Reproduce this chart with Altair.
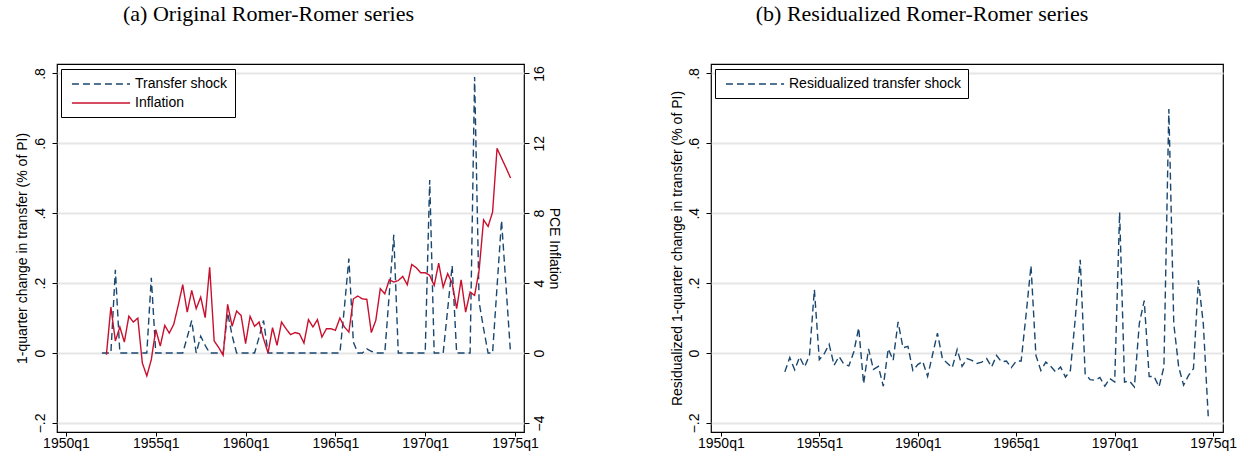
import altair as alt
import pandas as pd

NAVY = "#1a476f"
RED = "#c8102e"
GRID = "#e6e6e6"

# quarter index: 0 = 1950q1
tick_quarters = [0, 20, 40, 60, 80, 100]

shock_start = 8  # 1952q1
shock = [0, 0, 0, 0.238, 0, 0, 0, 0, 0, 0, 0, 0.215, 0, 0, 0, 0, 0, 0, 0,
         0.045, 0.093, 0, 0.048, 0.022, 0, 0, 0, 0, 0.115, 0.05, 0, 0, 0, 0,
         0, 0.045, 0.093, 0, 0, 0, 0, 0, 0, 0, 0, 0, 0, 0, 0, 0, 0, 0, 0, 0,
         0.13, 0.27, 0.031, 0, 0, 0.012, 0.005, 0, 0, 0, 0.17, 0.338, 0, 0,
         0, 0, 0, 0, 0, 0.495, 0, 0, 0, 0.125, 0.25, 0, 0, 0, 0, 0.79, 0.146,
         0.07, 0, 0, 0.19, 0.379, 0.19, 0]

infl_start = 9  # 1952q2
inflation = [-0.1, 2.63, 0.69, 1.49, 0.63, 2.11, 1.77, 2.0, -0.57, -1.31,
             -0.38, 1.34, 0.4, 1.58, 1.14, 1.64, 2.73, 3.91, 2.34, 3.58,
             2.54, 3.2, 2.02, 4.91, 0.69, 0.32, -0.13, 2.78, 1.53, 2.4, 2.15,
             0.54, 2.1, 1.53, 1.77, 0.82, 0.0, 1.45, 0.44, 1.77, 1.39, 1.05,
             1.17, 1.1, 0.57, 1.91, 1.49, 1.91, 0.91, 1.39, 1.39, 1.3, 2.0,
             1.49, 1.2, 3.1, 3.26, 3.1, 3.07, 1.17, 1.87, 3.68, 3.39, 4.19,
             4.06, 4.15, 4.38, 3.91, 5.07, 4.88, 4.59, 4.59, 4.44, 3.87, 5.14,
             3.77, 4.54, 4.0, 2.54, 4.19, 2.34, 3.49, 3.3, 4.73, 7.62, 7.24,
             8.06, 11.71, 11.15, 10.6, 10.02]

resid_start = 13  # 1953q2
resid = [-0.054, -0.013, -0.048, -0.011, -0.04, -0.007, 0.181, -0.019,
         -0.002, 0.025, -0.035, -0.01, -0.032, -0.037, 0.003, 0.072, -0.088,
         0.012, -0.047, -0.038, -0.095, 0.012, -0.021, 0.089, 0.015, 0.019,
         -0.05, -0.033, -0.024, -0.067, -0.005, 0.057, -0.016, -0.029, -0.042,
         0.01, -0.038, -0.016, -0.021, -0.03, -0.026, -0.016, -0.04, -0.007,
         -0.025, -0.023, -0.042, -0.023, -0.023, 0.11, 0.25, -0.007, -0.05,
         -0.026, -0.038, -0.054, -0.04, -0.069, -0.05, 0.1, 0.267, -0.059,
         -0.076, -0.078, -0.07, -0.095, -0.073, -0.083, 0.403, -0.083, -0.08,
         -0.097, 0.084, 0.15, -0.067, -0.067, -0.097, -0.04, 0.698, 0.084,
         -0.04, -0.092, -0.064, -0.045, 0.208, 0.084, -0.181]

left_ticks = [-0.2, 0, 0.2, 0.4, 0.6, 0.8]
right_ticks = [-4, 0, 4, 8, 12, 16]

def frame(start, vals, name):
    return pd.DataFrame({"t": list(range(start, start + len(vals))),
                         "v": vals, "series": name})

df_shock = frame(shock_start, shock, "Transfer shock")
df_infl = frame(infl_start, inflation, "Inflation")
df_resid = frame(resid_start, resid, "Residualized transfer shock")

FONT = "Liberation Sans"
XDOM = [-2, 102]
YDOM = [-0.226, 0.827]

x_axis = alt.Axis(values=tick_quarters, title=None, grid=False,
                  labelExpr="floor(datum.value/4)+1950 + 'q1'",
                  tickSize=4, labelPadding=0)

stata_lab = "datum.value == 0 ? '0' : replace(format(datum.value, '.1f'), '0.', '.')"

def legend_cfg(x, y):
    return alt.Legend(title=None, orient="none", legendX=x, legendY=y,
                      strokeColor="black", fillColor="white", padding=7,
                      symbolType="M-4.15,0H4.15", symbolSize=196,
                      symbolOffset=25, symbolStrokeWidth=1.4,
                      labelFont=FONT, labelFontSize=14, labelLimit=400,
                      labelColor="black", rowPadding=4, labelOffset=26)

dom_left = ["Transfer shock", "Inflation"]
color_l = alt.Color("series:N", scale=alt.Scale(domain=dom_left, range=[NAVY, RED]),
                    legend=legend_cfg(4, 5))
dash_l = alt.StrokeDash("series:N", scale=alt.Scale(domain=dom_left, range=[[7, 4], [1, 0]]),
                        legend=legend_cfg(4, 5))

shock_line = alt.Chart(df_shock).mark_line(strokeWidth=1.4).encode(
    x=alt.X("t:Q", scale=alt.Scale(domain=XDOM, nice=False, zero=False), axis=x_axis),
    y=alt.Y("v:Q", scale=alt.Scale(domain=YDOM, nice=False, zero=False),
            axis=alt.Axis(values=left_ticks, labelExpr=stata_lab,
                          title="1-quarter change in transfer (% of PI)",
                          grid=True, gridColor=GRID, gridWidth=2,
                          labelAngle=270, tickSize=5, labelPadding=5,
                          titlePadding=4)),
    color=color_l, strokeDash=dash_l,
)

infl_line = alt.Chart(df_infl).mark_line(strokeWidth=1.4).encode(
    x=alt.X("t:Q", scale=alt.Scale(domain=XDOM, nice=False, zero=False), axis=x_axis),
    y=alt.Y("v:Q", scale=alt.Scale(domain=[YDOM[0] * 20, YDOM[1] * 20], nice=False, zero=False),
            axis=alt.Axis(values=right_ticks, orient="right", title="PCE Inflation",
                          grid=False, labelAngle=270, tickSize=5, labelPadding=3,
                          titlePadding=0)),
    color=color_l, strokeDash=dash_l,
)

left = alt.layer(shock_line, infl_line).resolve_scale(y="independent").properties(
    width=467, height=368,
    title=alt.TitleParams("(a) Original Romer-Romer series", font="Liberation Serif",
                          fontSize=22, fontWeight="normal", anchor="middle",
                          offset=38, dx=-22, color="black"),
)

dom_right = ["Residualized transfer shock"]
right = alt.Chart(df_resid).mark_line(strokeWidth=1.4).encode(
    x=alt.X("t:Q", scale=alt.Scale(domain=XDOM, nice=False, zero=False), axis=x_axis),
    y=alt.Y("v:Q", scale=alt.Scale(domain=YDOM, nice=False, zero=False),
            axis=alt.Axis(values=left_ticks, labelExpr=stata_lab,
                          title="Residualized 1-quarter change in transfer (% of PI)",
                          grid=True, gridColor=GRID, gridWidth=2,
                          labelAngle=270, tickSize=5, labelPadding=5,
                          titlePadding=3)),
    color=alt.Color("series:N", scale=alt.Scale(domain=dom_right, range=[NAVY]),
                    legend=legend_cfg(4, 5)),
    strokeDash=alt.StrokeDash("series:N", scale=alt.Scale(domain=dom_right, range=[[7, 4]]),
                              legend=legend_cfg(4, 5)),
).properties(
    width=512, height=368,
    title=alt.TitleParams("(b) Residualized Romer-Romer series", font="Liberation Serif",
                          fontSize=22, fontWeight="normal", anchor="middle",
                          offset=38, dx=-45, color="black"),
)

chart = alt.hconcat(left, right, spacing=187, bounds="flush").resolve_scale(
    color="independent", strokeDash="independent"
).properties(
    padding={"left": 14, "top": 2, "right": 5, "bottom": 5},
    background="white",
).configure_view(
    stroke="black", strokeWidth=1.2
).configure_axis(
    labelFont=FONT, labelFontSize=14, labelColor="black",
    titleFont=FONT, titleFontSize=14, titleFontWeight="normal", titleColor="black",
    tickColor="black", domain=False,
)

chart.save("out.html", embed_options={"renderer": "svg", "actions": False})
